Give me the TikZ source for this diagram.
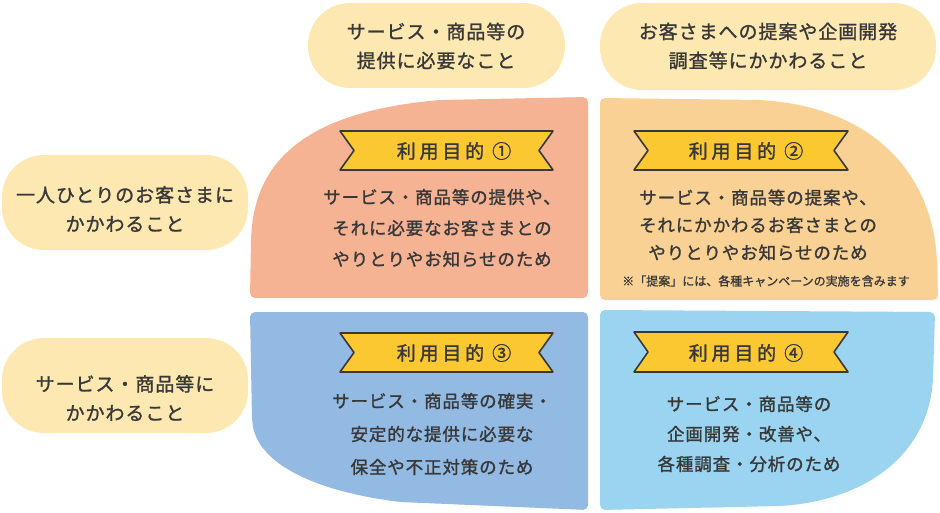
\documentclass[tikz,border=0pt]{standalone}
\usepackage{fontspec}
\newfontfamily\jphead[LetterSpace=5,FakeBold=1.3]{Noto Sans CJK JP}
\newfontfamily\jpbody[LetterSpace=5,FakeBold=1.3]{Noto Sans CJK JP}
\newfontfamily\jprib[LetterSpace=20,FakeBold=1.5]{Noto Sans CJK JP}
\newfontfamily\jpnote[FakeBold=1]{Noto Sans CJK JP}
\definecolor{pillc}{HTML}{FEE8B1}
\definecolor{qone}{HTML}{F5B394}
\definecolor{qtwo}{HTML}{FAD195}
\definecolor{qthree}{HTML}{93BAE2}
\definecolor{qfour}{HTML}{9BD4F0}
\definecolor{ribc}{HTML}{FBC832}
\definecolor{ink}{HTML}{383838}
\tikzset{
  pill/.style={fill=pillc, draw=none, rounded corners=42pt},
  headtext/.style={text=ink, align=center, font=\jphead\fontsize{19}{29}\selectfont},
  bodytext/.style={text=ink, align=center, font=\jpbody\fontsize{17.5}{31}\selectfont},
  ribtext/.style={text=ink, font=\jprib\fontsize{19}{20}\selectfont},
  ribbon/.style={fill=ribc, draw=ink, line width=1.6pt, line join=round},
}
\begin{document}
\begin{tikzpicture}[x=1pt,y=-1pt]
\useasboundingbox (0,0) rectangle (940,513);
% header pills
\path[pill] (308,3) rectangle (565,88);
\path[pill] (600,3) rectangle (936,90);
\node[headtext] (h1) at (436,46) {サービス・商品等の\\提供に必要なこと};
\node[headtext] (h2) at (768,46) {お客さまへの提案や企画開発\\調査等にかかわること};
% row pills
\path[pill] (2,155) rectangle (248,250);
\path[pill] (2,338) rectangle (248,433);
\node[headtext] (r1) at (125,209) {一人ひとりのお客さまに\\かかわること};
\node[headtext] (r2) at (125,398) {サービス・商品等に\\かかわること};
% quadrants
\fill[qone, rounded corners=5pt] (250,298) -- (251,240) .. controls (255,165) and (300,113) .. (440,100) -- (588,97) -- (588,298) -- cycle;
\fill[qtwo, rounded corners=5pt] (600,98) -- (760,100) .. controls (870,108) and (930,170) .. (937,260) -- (938,300) -- (600,300) -- cycle;
\fill[qthree, rounded corners=5pt] (250,312) -- (588,312) -- (588,510) -- (400,502) .. controls (310,490) and (258,462) .. (252,420) -- cycle;
\fill[qfour, rounded corners=5pt] (600,310) -- (935,312) -- (933,380) .. controls (925,460) and (860,500) .. (780,506) -- (600,510) -- cycle;
% ribbons
\draw[ribbon] (340,131) -- (553,131) -- (539,150.5) -- (553,170) -- (340,170) -- (354,150.5) -- cycle;
\draw[ribbon] (634,131) -- (848,131) -- (834,150.5) -- (848,170) -- (634,170) -- (648,150.5) -- cycle;
\draw[ribbon] (340,333) -- (553,333) -- (539,352.5) -- (553,372) -- (340,372) -- (354,352.5) -- cycle;
\draw[ribbon] (634,332) -- (848,332) -- (834,352) -- (848,372) -- (634,372) -- (648,352) -- cycle;
\node[ribtext] (t1) at (454,151) {利用目的 ①};
\node[ribtext] (t2) at (746,151) {利用目的 ②};
\node[ribtext] (t3) at (454,353) {利用目的 ③};
\node[ribtext] (t4) at (746,353) {利用目的 ④};
% body texts
\node[bodytext] (b1) at (442,228) {サービス・商品等の提供や、\\それに必要なお客さまとの\\やりとりやお知らせのため};
\node[bodytext, font=\jpbody\fontsize{17.5}{27.5}\selectfont] (b2) at (758,225) {サービス・商品等の提案や、\\それにかかわるお客さまとの\\やりとりやお知らせのため};
\node[text=ink, font=\jpnote\fontsize{12}{14}\selectfont] (n2) at (766,281) {※「提案」には、各種キャンペーンの実施を含みます};
\node[bodytext, font=\jpbody\fontsize{17.5}{33}\selectfont] (b3) at (442,434) {サービス・商品等の確実・\\安定的な提供に必要な\\保全や不正対策のため};
\node[bodytext, font=\jpbody\fontsize{17.5}{30}\selectfont] (b4) at (749,434) {サービス・商品等の\\企画開発・改善や、\\各種調査・分析のため};
\end{tikzpicture}
\end{document}
